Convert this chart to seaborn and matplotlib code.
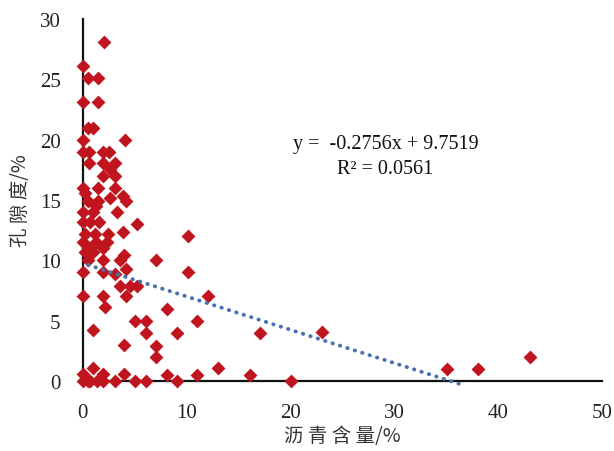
import numpy as np
import pandas as pd
import matplotlib
matplotlib.use("Agg")
import matplotlib.pyplot as plt
import seaborn as sns

# bitumen content (%) and porosity (%)
bitumen = [
    2.0, 0.0, 0.5, 1.5, 0.0, 1.5, 0.5, 1.0, 0.0, 4.1,
    0.0, 0.6, 1.9, 2.5, 0.6, 1.9, 3.1, 1.9, 3.1, 2.6,
    0.0, 1.5, 3.1, 0.5, 1.5, 4.2, 3.9, 0.0, 1.0, 3.3,
    0.0, 0.7, 1.6, 5.2, 0.2, 1.2, 2.4, 3.9, 10.1, 0.0,
    1.3, 2.3, 0.7, 1.9, 0.2, 1.0, 0.5, 4.0, 7.0, 1.9,
    0.0, 1.9, 3.1, 4.2, 10.1, 3.6, 4.5, 5.2, 0.0, 1.9,
    4.2, 12.1, 2.1, 8.1, 5.0, 6.1, 11.0, 1.0, 6.1, 9.1,
    17.1, 23.0, 4.0, 7.0, 7.0, 43.1, 1.0, 13.0, 35.1, 38.1,
    0.0, 1.9, 4.0, 8.1, 11.0, 16.1, 0.0, 0.7, 1.4, 1.9,
    3.1, 5.0, 6.1, 9.1, 20.1, 0.5, 2.6, 0.2, 1.3, 3.6,
]
porosity = [
    28.1, 26.1, 25.1, 25.1, 23.1, 23.1, 21.0, 21.0, 20.0, 20.0,
    19.0, 19.0, 19.0, 19.0, 18.1, 18.1, 18.1, 17.0, 17.0, 17.6,
    16.0, 16.0, 16.0, 14.9, 14.9, 14.9, 15.3, 14.0, 14.0, 14.0,
    13.2, 13.2, 13.2, 13.0, 12.2, 12.2, 12.2, 12.3, 12.0, 11.5,
    11.5, 11.5, 11.0, 11.0, 10.7, 10.7, 10.0, 10.4, 10.0, 10.0,
    9.0, 9.0, 8.9, 9.3, 9.0, 7.9, 7.9, 7.9, 7.0, 7.0,
    7.0, 7.0, 6.1, 6.0, 5.0, 5.0, 5.0, 4.2, 4.0, 4.0,
    4.0, 4.05, 3.0, 2.9, 2.0, 2.0, 1.1, 1.1, 1.0, 1.0,
    0.6, 0.6, 0.6, 0.5, 0.5, 0.5, 0.0, 0.0, 0.0, 0.0,
    0.0, 0.0, 0.0, 0.0, 0.0, 0.0, 15.2, 15.6, 14.5, 10.0,
]

slope = -0.2756
intercept = 9.7519
fit_range = [0.5, 36.3]
eq_text = "y =  -0.2756x + 9.7519"
r2_text = "R² = 0.0561"
x_ticks = [0, 10, 20, 30, 40, 50]
y_ticks = [0, 5, 10, 15, 20, 25, 30]
x_label = "沥青含量/%"
y_label = "孔隙度/%"

df = pd.DataFrame({"bitumen": bitumen, "porosity": porosity})
fit_x = np.array(fit_range)
fit_df = pd.DataFrame({"x": fit_x, "y": slope * fit_x + intercept})

sns.set_theme(style="white")
plt.rcParams["font.family"] = ["Liberation Serif", "Noto Sans CJK SC", "DejaVu Sans"]

fig = plt.figure(figsize=(6.14, 4.52), dpi=100)
ax = fig.add_axes([0.135, 0.155, 0.845, 0.801])

sns.scatterplot(data=df, x="bitumen", y="porosity", marker="D", s=50,
                color="#C0151E", linewidth=0, ax=ax, zorder=3, clip_on=False)
sns.lineplot(data=fit_df, x="x", y="y", ax=ax, color="#4A72B0",
             linewidth=2.8, linestyle=(0, (0.1, 1.9)), dash_capstyle="round",
             zorder=4, clip_on=False)

ax.set_xlim(0, 50)
ax.set_ylim(0, 30)
ax.set_xticks(x_ticks)
ax.set_yticks(y_ticks)
ax.tick_params(axis="x", length=0, labelsize=15, pad=16, colors="#222222")
ax.tick_params(axis="y", length=0, labelsize=15, pad=16, colors="#222222")
for s in ["top", "right"]:
    ax.spines[s].set_visible(False)
for s in ["left", "bottom"]:
    ax.spines[s].set_color("#111111")
    ax.spines[s].set_linewidth(1.6)
    ax.spines[s].set_zorder(2)

ax.set_xlabel(" ".join(x_label[:4]) + x_label[4:], fontsize=14,
              family=["Noto Sans CJK SC", "DejaVu Sans"], color="#333333", labelpad=2)
ax.set_ylabel(" ".join(y_label[:3]) + y_label[3:], fontsize=14,
              family=["Noto Sans CJK SC", "DejaVu Sans"], color="#333333", labelpad=6)

ax.text(0.583, 0.655, eq_text, transform=ax.transAxes, ha="center", va="center",
        fontsize=14.5, color="#111111")
ax.text(0.583, 0.588, r2_text, transform=ax.transAxes, ha="center", va="center",
        fontsize=14.5, color="#111111")

fig.savefig("out.png", dpi=100, facecolor="white")
